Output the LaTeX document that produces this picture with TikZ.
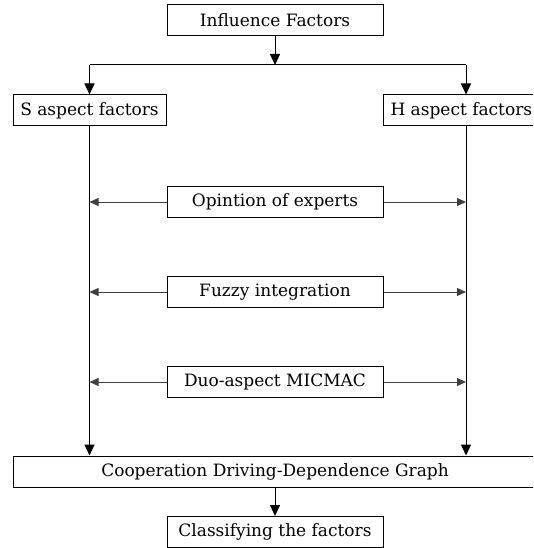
\documentclass[tikz,border=0pt]{standalone}
\usepackage{fontspec}
\setmainfont{DejaVu Serif}
\usetikzlibrary{arrows.meta,positioning}

\begin{document}
\begin{tikzpicture}[x=1pt,y=-1pt,
  font=\fontsize{17}{21}\selectfont,
  box/.style={draw,line width=1pt,minimum height=31pt,inner xsep=7pt,inner ysep=0pt},
  midbox/.style={box,minimum width=216pt},
  flow/.style={-{Triangle[length=11pt,width=10pt]},line width=1pt},
  side/.style={-{Triangle[length=9pt,width=8pt]},line width=0.9pt,draw=black!75}]
\clip (0,0) rectangle (533,548);

\node[midbox] (infl) at (275,20.5) {Influence Factors};
\node[box,minimum width=153pt] (sasp) at (89.5,110.5) {S aspect factors};
\node[box,anchor=west] (hasp) at (383,110.5) {H aspect factors};

\node[midbox] (opin) at (275,202) {Opintion of experts};
\node[midbox] (fuzz) at (275,292) {Fuzzy integration};
\node[midbox] (duo) at (275,382) {Duo-aspect MICMAC};

\node[box,minimum width=524pt] (coop) at (275,471.5) {Cooperation Driving-Dependence Graph};
\node[midbox] (clas) at (275,532) {Classifying the factors};

\coordinate (junc) at (275,65);
\coordinate (jl) at (89.5,65);
\coordinate (jr) at (466,65);

\draw[flow] (infl) -- (junc);
\draw[line width=1pt] (jl) -- (jr);
\draw[flow] (jl) -- (sasp);
\draw[flow] (jr) -- (jr |- hasp.north);

\draw[flow] (sasp) -- (sasp |- coop.north);
\draw[flow] (jr |- hasp.south) -- (jr |- coop.north);

\foreach \n in {opin,fuzz,duo}{
  \draw[side] (\n) -- (\n.west -| sasp);
  \draw[side] (\n) -- (\n.east -| jr);
}

\draw[flow] (coop) -- (clas);
\end{tikzpicture}
\end{document}
